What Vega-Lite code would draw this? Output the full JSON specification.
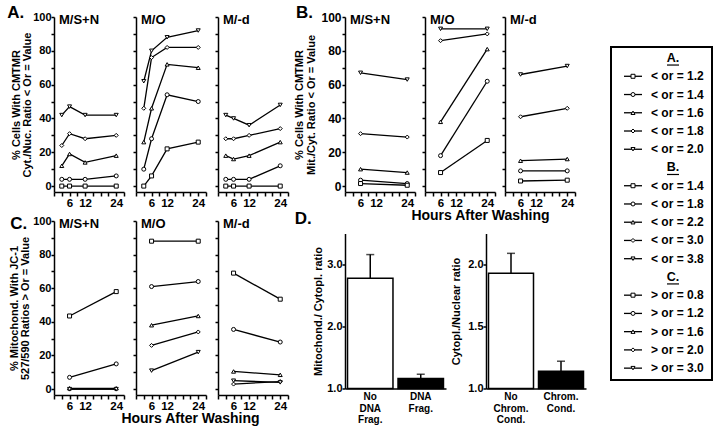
{
"$schema":"https://vega.github.io/schema/vega-lite/v6.json",
"autosize":{"type":"pad"},
"padding":{"left":7,"top":4,"right":0,"bottom":0},
"config":{
 "view":{"stroke":null},
 "font":"Liberation Sans",
 "axis":{"domainColor":"black","domainWidth":1.5,"tickColor":"black","tickWidth":1.5,"tickSize":4,"labelColor":"black","labelFont":"Liberation Sans","labelFontWeight":"bold","labelFontSize":11.5,"labelPadding":1,"titleColor":"black","titleFont":"Liberation Sans","titleFontWeight":"bold","titleFontSize":11,"grid":false,"labelOverlap":false,"labelFlush":false},
 "title":{"font":"Liberation Sans","fontWeight":"bold","color":"black"}
},
"datasets":{
"lines":[
{"fig":"A","cond":"M/S+N","lvl":"5","t":3,"v":42},{"fig":"A","cond":"M/S+N","lvl":"5","t":6,"v":47},{"fig":"A","cond":"M/S+N","lvl":"5","t":12,"v":42},{"fig":"A","cond":"M/S+N","lvl":"5","t":24,"v":42},
{"fig":"A","cond":"M/S+N","lvl":"4","t":3,"v":24},{"fig":"A","cond":"M/S+N","lvl":"4","t":6,"v":31},{"fig":"A","cond":"M/S+N","lvl":"4","t":12,"v":28},{"fig":"A","cond":"M/S+N","lvl":"4","t":24,"v":30},
{"fig":"A","cond":"M/S+N","lvl":"3","t":3,"v":12},{"fig":"A","cond":"M/S+N","lvl":"3","t":6,"v":19},{"fig":"A","cond":"M/S+N","lvl":"3","t":12,"v":14},{"fig":"A","cond":"M/S+N","lvl":"3","t":24,"v":18},
{"fig":"A","cond":"M/S+N","lvl":"2","t":3,"v":4},{"fig":"A","cond":"M/S+N","lvl":"2","t":6,"v":4},{"fig":"A","cond":"M/S+N","lvl":"2","t":12,"v":4},{"fig":"A","cond":"M/S+N","lvl":"2","t":24,"v":6},
{"fig":"A","cond":"M/S+N","lvl":"1","t":3,"v":0},{"fig":"A","cond":"M/S+N","lvl":"1","t":6,"v":0},{"fig":"A","cond":"M/S+N","lvl":"1","t":12,"v":0},{"fig":"A","cond":"M/S+N","lvl":"1","t":24,"v":0},
{"fig":"A","cond":"M/O","lvl":"5","t":3,"v":62},{"fig":"A","cond":"M/O","lvl":"5","t":6,"v":80},{"fig":"A","cond":"M/O","lvl":"5","t":12,"v":88},{"fig":"A","cond":"M/O","lvl":"5","t":24,"v":92},
{"fig":"A","cond":"M/O","lvl":"4","t":3,"v":46},{"fig":"A","cond":"M/O","lvl":"4","t":6,"v":76},{"fig":"A","cond":"M/O","lvl":"4","t":12,"v":82},{"fig":"A","cond":"M/O","lvl":"4","t":24,"v":82},
{"fig":"A","cond":"M/O","lvl":"3","t":3,"v":26},{"fig":"A","cond":"M/O","lvl":"3","t":6,"v":46},{"fig":"A","cond":"M/O","lvl":"3","t":12,"v":72},{"fig":"A","cond":"M/O","lvl":"3","t":24,"v":70},
{"fig":"A","cond":"M/O","lvl":"2","t":3,"v":10},{"fig":"A","cond":"M/O","lvl":"2","t":6,"v":28},{"fig":"A","cond":"M/O","lvl":"2","t":12,"v":54},{"fig":"A","cond":"M/O","lvl":"2","t":24,"v":50},
{"fig":"A","cond":"M/O","lvl":"1","t":3,"v":0},{"fig":"A","cond":"M/O","lvl":"1","t":6,"v":6},{"fig":"A","cond":"M/O","lvl":"1","t":12,"v":22},{"fig":"A","cond":"M/O","lvl":"1","t":24,"v":26},
{"fig":"A","cond":"M/-d","lvl":"5","t":3,"v":42},{"fig":"A","cond":"M/-d","lvl":"5","t":6,"v":40},{"fig":"A","cond":"M/-d","lvl":"5","t":12,"v":36},{"fig":"A","cond":"M/-d","lvl":"5","t":24,"v":48},
{"fig":"A","cond":"M/-d","lvl":"4","t":3,"v":28},{"fig":"A","cond":"M/-d","lvl":"4","t":6,"v":28},{"fig":"A","cond":"M/-d","lvl":"4","t":12,"v":30},{"fig":"A","cond":"M/-d","lvl":"4","t":24,"v":34},
{"fig":"A","cond":"M/-d","lvl":"3","t":3,"v":18},{"fig":"A","cond":"M/-d","lvl":"3","t":6,"v":16},{"fig":"A","cond":"M/-d","lvl":"3","t":12,"v":18},{"fig":"A","cond":"M/-d","lvl":"3","t":24,"v":26},
{"fig":"A","cond":"M/-d","lvl":"2","t":3,"v":4},{"fig":"A","cond":"M/-d","lvl":"2","t":6,"v":4},{"fig":"A","cond":"M/-d","lvl":"2","t":12,"v":4},{"fig":"A","cond":"M/-d","lvl":"2","t":24,"v":12},
{"fig":"A","cond":"M/-d","lvl":"1","t":3,"v":0},{"fig":"A","cond":"M/-d","lvl":"1","t":6,"v":0},{"fig":"A","cond":"M/-d","lvl":"1","t":12,"v":0},{"fig":"A","cond":"M/-d","lvl":"1","t":24,"v":0},
{"fig":"B","cond":"M/S+N","lvl":"5","t":6,"v":67},{"fig":"B","cond":"M/S+N","lvl":"5","t":24,"v":63},
{"fig":"B","cond":"M/S+N","lvl":"4","t":6,"v":31},{"fig":"B","cond":"M/S+N","lvl":"4","t":24,"v":29},
{"fig":"B","cond":"M/S+N","lvl":"3","t":6,"v":10},{"fig":"B","cond":"M/S+N","lvl":"3","t":24,"v":8},
{"fig":"B","cond":"M/S+N","lvl":"2","t":6,"v":3.5},{"fig":"B","cond":"M/S+N","lvl":"2","t":24,"v":1.5},
{"fig":"B","cond":"M/S+N","lvl":"1","t":6,"v":1.5},{"fig":"B","cond":"M/S+N","lvl":"1","t":24,"v":0.5},
{"fig":"B","cond":"M/O","lvl":"5","t":6,"v":93},{"fig":"B","cond":"M/O","lvl":"5","t":24,"v":93},
{"fig":"B","cond":"M/O","lvl":"4","t":6,"v":86},{"fig":"B","cond":"M/O","lvl":"4","t":24,"v":90},
{"fig":"B","cond":"M/O","lvl":"3","t":6,"v":38},{"fig":"B","cond":"M/O","lvl":"3","t":24,"v":81},
{"fig":"B","cond":"M/O","lvl":"2","t":6,"v":18},{"fig":"B","cond":"M/O","lvl":"2","t":24,"v":62},
{"fig":"B","cond":"M/O","lvl":"1","t":6,"v":8},{"fig":"B","cond":"M/O","lvl":"1","t":24,"v":27},
{"fig":"B","cond":"M/-d","lvl":"5","t":6,"v":66},{"fig":"B","cond":"M/-d","lvl":"5","t":24,"v":71},
{"fig":"B","cond":"M/-d","lvl":"4","t":6,"v":41},{"fig":"B","cond":"M/-d","lvl":"4","t":24,"v":46},
{"fig":"B","cond":"M/-d","lvl":"3","t":6,"v":15},{"fig":"B","cond":"M/-d","lvl":"3","t":24,"v":16},
{"fig":"B","cond":"M/-d","lvl":"2","t":6,"v":9},{"fig":"B","cond":"M/-d","lvl":"2","t":24,"v":9},
{"fig":"B","cond":"M/-d","lvl":"1","t":6,"v":3},{"fig":"B","cond":"M/-d","lvl":"1","t":24,"v":3.5},
{"fig":"C","cond":"M/S+N","lvl":"1","t":6,"v":43.5},{"fig":"C","cond":"M/S+N","lvl":"1","t":24,"v":58},
{"fig":"C","cond":"M/S+N","lvl":"2","t":6,"v":7},{"fig":"C","cond":"M/S+N","lvl":"2","t":24,"v":15},
{"fig":"C","cond":"M/S+N","lvl":"3","t":6,"v":0.5},{"fig":"C","cond":"M/S+N","lvl":"3","t":24,"v":0.5},
{"fig":"C","cond":"M/S+N","lvl":"4","t":6,"v":0},{"fig":"C","cond":"M/S+N","lvl":"4","t":24,"v":0},
{"fig":"C","cond":"M/S+N","lvl":"5","t":6,"v":0},{"fig":"C","cond":"M/S+N","lvl":"5","t":24,"v":0},
{"fig":"C","cond":"M/O","lvl":"1","t":6,"v":88},{"fig":"C","cond":"M/O","lvl":"1","t":24,"v":88},
{"fig":"C","cond":"M/O","lvl":"2","t":6,"v":61},{"fig":"C","cond":"M/O","lvl":"2","t":24,"v":64},
{"fig":"C","cond":"M/O","lvl":"3","t":6,"v":38},{"fig":"C","cond":"M/O","lvl":"3","t":24,"v":43.5},
{"fig":"C","cond":"M/O","lvl":"4","t":6,"v":26},{"fig":"C","cond":"M/O","lvl":"4","t":24,"v":34},
{"fig":"C","cond":"M/O","lvl":"5","t":6,"v":11},{"fig":"C","cond":"M/O","lvl":"5","t":24,"v":22},
{"fig":"C","cond":"M/-d","lvl":"1","t":6,"v":69},{"fig":"C","cond":"M/-d","lvl":"1","t":24,"v":53.5},
{"fig":"C","cond":"M/-d","lvl":"2","t":6,"v":35.5},{"fig":"C","cond":"M/-d","lvl":"2","t":24,"v":28},
{"fig":"C","cond":"M/-d","lvl":"3","t":6,"v":10.5},{"fig":"C","cond":"M/-d","lvl":"3","t":24,"v":8.5},
{"fig":"C","cond":"M/-d","lvl":"4","t":6,"v":3},{"fig":"C","cond":"M/-d","lvl":"4","t":24,"v":4.5},
{"fig":"C","cond":"M/-d","lvl":"5","t":6,"v":5},{"fig":"C","cond":"M/-d","lvl":"5","t":24,"v":4}
],
"bars":[
{"panel":"L","cat":"No DNA Frag.","grp":"no","v":2.78,"hi":3.16},
{"panel":"L","cat":"DNA Frag.","grp":"yes","v":1.16,"hi":1.23},
{"panel":"R","cat":"No Chrom. Cond.","grp":"no","v":1.93,"hi":2.09},
{"panel":"R","cat":"Chrom. Cond.","grp":"yes","v":1.14,"hi":1.22}
],
"legend":[
{"row":1,"kind":"head","label":"A."},
{"row":2,"kind":"item","lvl":"1","label":"< or = 1.2"},
{"row":3,"kind":"item","lvl":"2","label":"< or = 1.4"},
{"row":4,"kind":"item","lvl":"3","label":"< or = 1.6"},
{"row":5,"kind":"item","lvl":"4","label":"< or = 1.8"},
{"row":6,"kind":"item","lvl":"5","label":"< or = 2.0"},
{"row":7,"kind":"head","label":"B."},
{"row":8,"kind":"item","lvl":"1","label":"< or = 1.4"},
{"row":9,"kind":"item","lvl":"2","label":"< or = 1.8"},
{"row":10,"kind":"item","lvl":"3","label":"< or = 2.2"},
{"row":11,"kind":"item","lvl":"4","label":"< or = 3.0"},
{"row":12,"kind":"item","lvl":"5","label":"< or = 3.8"},
{"row":13,"kind":"head","label":"C."},
{"row":14,"kind":"item","lvl":"1","label":"> or = 0.8"},
{"row":15,"kind":"item","lvl":"2","label":"> or = 1.2"},
{"row":16,"kind":"item","lvl":"3","label":"> or = 1.6"},
{"row":17,"kind":"item","lvl":"4","label":"> or = 2.0"},
{"row":18,"kind":"item","lvl":"5","label":"> or = 3.0"}
]
},
"hconcat":[
{"hconcat":[
 {"vconcat":[
  {"title":{"text":"A.","anchor":"start","dx":-3,"offset":-11,"fontSize":17},
   "hconcat":[
    {"width":70,"height":175,"data":{"name":"lines"},"transform":[{"filter":"datum.fig=='A' && datum.cond=='M/S+N'"}],
     "title":{"text":"M/S+N","anchor":"start","frame":"group","dx":5,"offset":-16,"fontSize":13},
     "encoding":{"x":{"field":"t","type":"quantitative","scale":{"domain":[0,27],"nice":false,"zero":false},"axis":{"values":[0,3,6,9,12,15,18,21,24,27],"labelExpr":"datum.value == 6 || datum.value == 12 || datum.value == 24 ? datum.label : ''","title":null}},
                 "y":{"field":"v","type":"quantitative","scale":{"domain":[-3.5,100],"nice":false,"zero":false},"axis":{"values":[0,10,20,30,40,50,60,70,80,90,100],"labelExpr":"datum.value % 20 == 0 ? datum.label : ''","title":["% Cells With CMTMR","Cyt./Nuc. Ratio < Or = Value"],"titlePadding":0,"titleLineHeight":11.5,"labelFontSize":11,"labelPadding":0,"tickSize":3}}},
     "layer":[
      {"mark":{"type":"line","color":"black","strokeWidth":1.3},"encoding":{"detail":{"field":"lvl"}}},
      {"mark":{"type":"point","filled":true,"fill":"white","stroke":"black","strokeWidth":1,"opacity":1},"encoding":{"shape":{"field":"lvl","type":"nominal","scale":{"domain":["1","2","3","4","5"],"range":["square","circle","triangle-up","diamond","triangle-down"]},"legend":null},"size":{"field":"lvl","type":"ordinal","scale":{"domain":["1","2","3","4","5"],"range":[16,16,30,30,30]},"legend":null}}}
     ]},
    {"width":70,"height":175,"data":{"name":"lines"},"transform":[{"filter":"datum.fig=='A' && datum.cond=='M/O'"}],
     "title":{"text":"M/O","anchor":"start","frame":"group","dx":5,"offset":-11,"fontSize":13},
     "encoding":{"x":{"field":"t","type":"quantitative","scale":{"domain":[0,27],"nice":false,"zero":false},"axis":{"values":[0,3,6,9,12,15,18,21,24,27],"labelExpr":"datum.value == 6 || datum.value == 12 || datum.value == 24 ? datum.label : ''","title":null}},
                 "y":{"field":"v","type":"quantitative","scale":{"domain":[-3.5,100],"nice":false,"zero":false},"axis":{"values":[0,10,20,30,40,50,60,70,80,90,100],"labels":false,"title":null,"tickSize":3}}},
     "layer":[
      {"mark":{"type":"line","color":"black","strokeWidth":1.3},"encoding":{"detail":{"field":"lvl"}}},
      {"mark":{"type":"point","filled":true,"fill":"white","stroke":"black","strokeWidth":1,"opacity":1},"encoding":{"shape":{"field":"lvl","type":"nominal","scale":{"domain":["1","2","3","4","5"],"range":["square","circle","triangle-up","diamond","triangle-down"]},"legend":null},"size":{"field":"lvl","type":"ordinal","scale":{"domain":["1","2","3","4","5"],"range":[16,16,30,30,30]},"legend":null}}}
     ]},
    {"width":70,"height":175,"data":{"name":"lines"},"transform":[{"filter":"datum.fig=='A' && datum.cond=='M/-d'"}],
     "title":{"text":"M/-d","anchor":"start","frame":"group","dx":5,"offset":-11,"fontSize":13},
     "encoding":{"x":{"field":"t","type":"quantitative","scale":{"domain":[0,27],"nice":false,"zero":false},"axis":{"values":[0,3,6,9,12,15,18,21,24,27],"labelExpr":"datum.value == 6 || datum.value == 12 || datum.value == 24 ? datum.label : ''","title":null}},
                 "y":{"field":"v","type":"quantitative","scale":{"domain":[-3.5,100],"nice":false,"zero":false},"axis":{"values":[0,10,20,30,40,50,60,70,80,90,100],"labels":false,"title":null,"tickSize":3}}},
     "layer":[
      {"mark":{"type":"line","color":"black","strokeWidth":1.3},"encoding":{"detail":{"field":"lvl"}}},
      {"mark":{"type":"point","filled":true,"fill":"white","stroke":"black","strokeWidth":1,"opacity":1},"encoding":{"shape":{"field":"lvl","type":"nominal","scale":{"domain":["1","2","3","4","5"],"range":["square","circle","triangle-up","diamond","triangle-down"]},"legend":null},"size":{"field":"lvl","type":"ordinal","scale":{"domain":["1","2","3","4","5"],"range":[16,16,30,30,30]},"legend":null}}}
     ]}
   ],"spacing":12,"bounds":"flush"},
  {"title":{"text":"C.","anchor":"start","dx":2,"offset":-18,"fontSize":17},
   "hconcat":[
    {"width":70,"height":174,"data":{"name":"lines"},"transform":[{"filter":"datum.fig=='C' && datum.cond=='M/S+N'"}],
     "title":{"text":"M/S+N","anchor":"start","frame":"group","dx":5,"offset":-16,"fontSize":13},
     "encoding":{"x":{"field":"t","type":"quantitative","scale":{"domain":[0,27],"nice":false,"zero":false},"axis":{"values":[0,3,6,9,12,15,18,21,24,27],"labelExpr":"datum.value == 6 || datum.value == 12 || datum.value == 24 ? datum.label : ''","title":null}},
                 "y":{"field":"v","type":"quantitative","scale":{"domain":[-3.5,100],"nice":false,"zero":false},"axis":{"values":[0,10,20,30,40,50,60,70,80,90,100],"labelExpr":"datum.value % 20 == 0 ? datum.label : ''","title":["% Mitochond. With JC-1","527/590 Ratios > Or = Value"],"titlePadding":2,"titleLineHeight":11.5,"labelFontSize":11,"labelPadding":0,"tickSize":3}}},
     "layer":[
      {"mark":{"type":"line","color":"black","strokeWidth":1.3},"encoding":{"detail":{"field":"lvl"}}},
      {"mark":{"type":"point","filled":true,"fill":"white","stroke":"black","strokeWidth":1,"opacity":1},"encoding":{"shape":{"field":"lvl","type":"nominal","scale":{"domain":["1","2","3","4","5"],"range":["square","circle","triangle-up","diamond","triangle-down"]},"legend":null},"size":{"field":"lvl","type":"ordinal","scale":{"domain":["1","2","3","4","5"],"range":[16,16,30,30,30]},"legend":null}}}
     ]},
    {"width":70,"height":174,"data":{"name":"lines"},"transform":[{"filter":"datum.fig=='C' && datum.cond=='M/O'"}],
     "title":{"text":"M/O","anchor":"start","frame":"group","dx":5,"offset":-11,"fontSize":13},
     "encoding":{"x":{"field":"t","type":"quantitative","scale":{"domain":[0,27],"nice":false,"zero":false},"axis":{"values":[0,3,6,9,12,15,18,21,24,27],"labelExpr":"datum.value == 6 || datum.value == 12 || datum.value == 24 ? datum.label : ''","title":"Hours After Washing","titleFontSize":14,"titleX":54,"titlePadding":0}},
                 "y":{"field":"v","type":"quantitative","scale":{"domain":[-3.5,100],"nice":false,"zero":false},"axis":{"values":[0,10,20,30,40,50,60,70,80,90,100],"labels":false,"title":null,"tickSize":3}}},
     "layer":[
      {"mark":{"type":"line","color":"black","strokeWidth":1.3},"encoding":{"detail":{"field":"lvl"}}},
      {"mark":{"type":"point","filled":true,"fill":"white","stroke":"black","strokeWidth":1,"opacity":1},"encoding":{"shape":{"field":"lvl","type":"nominal","scale":{"domain":["1","2","3","4","5"],"range":["square","circle","triangle-up","diamond","triangle-down"]},"legend":null},"size":{"field":"lvl","type":"ordinal","scale":{"domain":["1","2","3","4","5"],"range":[16,16,30,30,30]},"legend":null}}}
     ]},
    {"width":70,"height":174,"data":{"name":"lines"},"transform":[{"filter":"datum.fig=='C' && datum.cond=='M/-d'"}],
     "title":{"text":"M/-d","anchor":"start","frame":"group","dx":5,"offset":-11,"fontSize":13},
     "encoding":{"x":{"field":"t","type":"quantitative","scale":{"domain":[0,27],"nice":false,"zero":false},"axis":{"values":[0,3,6,9,12,15,18,21,24,27],"labelExpr":"datum.value == 6 || datum.value == 12 || datum.value == 24 ? datum.label : ''","title":null}},
                 "y":{"field":"v","type":"quantitative","scale":{"domain":[-3.5,100],"nice":false,"zero":false},"axis":{"values":[0,10,20,30,40,50,60,70,80,90,100],"labels":false,"title":null,"tickSize":3}}},
     "layer":[
      {"mark":{"type":"line","color":"black","strokeWidth":1.3},"encoding":{"detail":{"field":"lvl"}}},
      {"mark":{"type":"point","filled":true,"fill":"white","stroke":"black","strokeWidth":1,"opacity":1},"encoding":{"shape":{"field":"lvl","type":"nominal","scale":{"domain":["1","2","3","4","5"],"range":["square","circle","triangle-up","diamond","triangle-down"]},"legend":null},"size":{"field":"lvl","type":"ordinal","scale":{"domain":["1","2","3","4","5"],"range":[16,16,30,30,30]},"legend":null}}}
     ]}
   ],"spacing":12,"bounds":"flush"}
 ],"spacing":6},
 {"vconcat":[
  {"title":{"text":"B.","anchor":"start","dx":2,"offset":-11,"fontSize":17},
   "hconcat":[
    {"width":70,"height":175,"data":{"name":"lines"},"transform":[{"filter":"datum.fig=='B' && datum.cond=='M/S+N'"}],
     "title":{"text":"M/S+N","anchor":"start","frame":"group","dx":5,"offset":-16,"fontSize":13},
     "encoding":{"x":{"field":"t","type":"quantitative","scale":{"domain":[0,27],"nice":false,"zero":false},"axis":{"values":[0,3,6,9,12,15,18,21,24,27],"labelExpr":"datum.value == 6 || datum.value == 12 || datum.value == 24 ? datum.label : ''","title":null}},
                 "y":{"field":"v","type":"quantitative","scale":{"domain":[-3.5,100],"nice":false,"zero":false},"axis":{"values":[0,10,20,30,40,50,60,70,80,90,100],"labelExpr":"datum.value % 20 == 0 ? datum.label : ''","title":["% Cells With CMTMR","Mit./Cyt. Ratio < Or = Value"],"titlePadding":4,"titleLineHeight":12,"labelFontSize":12,"labelPadding":1,"tickSize":3}}},
     "layer":[
      {"mark":{"type":"line","color":"black","strokeWidth":1.3},"encoding":{"detail":{"field":"lvl"}}},
      {"mark":{"type":"point","filled":true,"fill":"white","stroke":"black","strokeWidth":1,"opacity":1},"encoding":{"shape":{"field":"lvl","type":"nominal","scale":{"domain":["1","2","3","4","5"],"range":["square","circle","triangle-up","diamond","triangle-down"]},"legend":null},"size":{"field":"lvl","type":"ordinal","scale":{"domain":["1","2","3","4","5"],"range":[16,16,30,30,30]},"legend":null}}}
     ]},
    {"width":70,"height":175,"data":{"name":"lines"},"transform":[{"filter":"datum.fig=='B' && datum.cond=='M/O'"}],
     "title":{"text":"M/O","anchor":"start","frame":"group","dx":5,"offset":-11,"fontSize":13},
     "encoding":{"x":{"field":"t","type":"quantitative","scale":{"domain":[0,27],"nice":false,"zero":false},"axis":{"values":[0,3,6,9,12,15,18,21,24,27],"labelExpr":"datum.value == 6 || datum.value == 12 || datum.value == 24 ? datum.label : ''","title":"Hours After Washing","titleFontSize":14,"titleX":55,"titlePadding":0}},
                 "y":{"field":"v","type":"quantitative","scale":{"domain":[-3.5,100],"nice":false,"zero":false},"axis":{"values":[0,10,20,30,40,50,60,70,80,90,100],"labels":false,"title":null,"tickSize":3}}},
     "layer":[
      {"mark":{"type":"line","color":"black","strokeWidth":1.3},"encoding":{"detail":{"field":"lvl"}}},
      {"mark":{"type":"point","filled":true,"fill":"white","stroke":"black","strokeWidth":1,"opacity":1},"encoding":{"shape":{"field":"lvl","type":"nominal","scale":{"domain":["1","2","3","4","5"],"range":["square","circle","triangle-up","diamond","triangle-down"]},"legend":null},"size":{"field":"lvl","type":"ordinal","scale":{"domain":["1","2","3","4","5"],"range":[16,16,30,30,30]},"legend":null}}}
     ]},
    {"width":70,"height":175,"data":{"name":"lines"},"transform":[{"filter":"datum.fig=='B' && datum.cond=='M/-d'"}],
     "title":{"text":"M/-d","anchor":"start","frame":"group","dx":5,"offset":-11,"fontSize":13},
     "encoding":{"x":{"field":"t","type":"quantitative","scale":{"domain":[0,27],"nice":false,"zero":false},"axis":{"values":[0,3,6,9,12,15,18,21,24,27],"labelExpr":"datum.value == 6 || datum.value == 12 || datum.value == 24 ? datum.label : ''","title":null}},
                 "y":{"field":"v","type":"quantitative","scale":{"domain":[-3.5,100],"nice":false,"zero":false},"axis":{"values":[0,10,20,30,40,50,60,70,80,90,100],"labels":false,"title":null,"tickSize":3}}},
     "layer":[
      {"mark":{"type":"line","color":"black","strokeWidth":1.3},"encoding":{"detail":{"field":"lvl"}}},
      {"mark":{"type":"point","filled":true,"fill":"white","stroke":"black","strokeWidth":1,"opacity":1},"encoding":{"shape":{"field":"lvl","type":"nominal","scale":{"domain":["1","2","3","4","5"],"range":["square","circle","triangle-up","diamond","triangle-down"]},"legend":null},"size":{"field":"lvl","type":"ordinal","scale":{"domain":["1","2","3","4","5"],"range":[16,16,30,30,30]},"legend":null}}}
     ]}
   ],"spacing":10,"bounds":"flush"},
  {"title":{"text":"D.","anchor":"start","dx":-18,"offset":6,"fontSize":17},
   "hconcat":[
    {"width":101,"height":155,"data":{"name":"bars"},"transform":[{"filter":"datum.panel=='L'"}],
     "encoding":{"x":{"field":"cat","type":"nominal","sort":null,"scale":{"paddingInner":0.1,"paddingOuter":0.05},"axis":{"title":null,"labelAngle":0,"ticks":false,"tickSize":0,"labelExpr":"split(datum.label, ' ')","labelFontSize":10,"labelLineHeight":11.5,"labelPadding":3}}},
     "layer":[
      {"mark":{"type":"bar","stroke":"black","strokeWidth":1.5},"encoding":{"y":{"field":"v","type":"quantitative","scale":{"domain":[1,3.5],"nice":false,"zero":false},"axis":{"values":[1,2,3],"format":".1f","title":"Mitochond./ Cytopl. ratio","titleFontSize":11,"labelFontSize":11,"titlePadding":3,"labelPadding":0,"tickSize":3}},"y2":{"datum":1},"fill":{"field":"grp","type":"nominal","scale":{"domain":["no","yes"],"range":["white","black"]},"legend":null}}},
      {"mark":{"type":"rule","color":"black","strokeWidth":1.5},"encoding":{"y":{"field":"v","type":"quantitative"},"y2":{"field":"hi"}}},
      {"mark":{"type":"tick","color":"black","thickness":1.5,"size":8},"encoding":{"y":{"field":"hi","type":"quantitative"}}}
     ]},
    {"width":100,"height":155,"data":{"name":"bars"},"transform":[{"filter":"datum.panel=='R'"}],
     "encoding":{"x":{"field":"cat","type":"nominal","sort":null,"scale":{"paddingInner":0.1,"paddingOuter":0.05},"axis":{"title":null,"labelAngle":0,"ticks":false,"tickSize":0,"labelExpr":"split(datum.label, ' ')","labelFontSize":10,"labelLineHeight":11.5,"labelPadding":3}}},
     "layer":[
      {"mark":{"type":"bar","stroke":"black","strokeWidth":1.5},"encoding":{"y":{"field":"v","type":"quantitative","scale":{"domain":[1,2.25],"nice":false,"zero":false},"axis":{"values":[1,1.5,2],"format":".1f","title":"Cytopl./Nuclear ratio","titleFontSize":11,"labelFontSize":11,"titlePadding":6,"labelPadding":0,"tickSize":3}},"y2":{"datum":1},"fill":{"field":"grp","type":"nominal","scale":{"domain":["no","yes"],"range":["white","black"]},"legend":null}}},
      {"mark":{"type":"rule","color":"black","strokeWidth":1.5},"encoding":{"y":{"field":"v","type":"quantitative"},"y2":{"field":"hi"}}},
      {"mark":{"type":"tick","color":"black","thickness":1.5,"size":8},"encoding":{"y":{"field":"hi","type":"quantitative"}}}
     ]}
   ],"spacing":40,"bounds":"flush"}
 ],"spacing":-13.5}
],"spacing":4},
{"width":101,"height":363,"data":{"name":"legend"},
 "layer":[
  {"mark":{"type":"rect","fill":"white","fillOpacity":0,"stroke":"black","strokeWidth":1.5},"encoding":{"x":{"datum":0,"type":"quantitative","scale":{"domain":[0,101],"nice":false,"zero":false},"axis":null},"x2":{"datum":101},"y":{"datum":0.4,"type":"quantitative","scale":{"domain":[-1.25,18.65],"reverse":true,"nice":false,"zero":false},"axis":null},"y2":{"datum":18.65}}},
  {"transform":[{"filter":"datum.kind=='item'"}],"mark":{"type":"rule","color":"black","strokeWidth":1.3},"encoding":{"x":{"datum":13,"type":"quantitative"},"x2":{"datum":31},"y":{"field":"row","type":"quantitative"}}},
  {"transform":[{"filter":"datum.kind=='item'"}],"mark":{"type":"point","filled":true,"fill":"white","stroke":"black","strokeWidth":1,"opacity":1},"encoding":{"x":{"datum":22,"type":"quantitative"},"y":{"field":"row","type":"quantitative"},"shape":{"field":"lvl","type":"nominal","scale":{"domain":["1","2","3","4","5"],"range":["square","circle","triangle-up","diamond","triangle-down"]},"legend":null},"size":{"field":"lvl","type":"ordinal","scale":{"domain":["1","2","3","4","5"],"range":[16,16,30,30,30]},"legend":null}}},
  {"transform":[{"filter":"datum.kind=='item'"}],"mark":{"type":"text","align":"left","fontSize":12,"fontWeight":"bold"},"encoding":{"x":{"datum":40,"type":"quantitative"},"y":{"field":"row","type":"quantitative"},"text":{"field":"label"}}},
  {"transform":[{"filter":"datum.kind=='head'"}],"mark":{"type":"text","align":"center","fontSize":12.5,"fontWeight":"bold"},"encoding":{"x":{"datum":62,"type":"quantitative"},"y":{"field":"row","type":"quantitative"},"text":{"field":"label"}}},
  {"transform":[{"filter":"datum.kind=='head'"}],"mark":{"type":"rule","color":"black","strokeWidth":1.2,"yOffset":7},"encoding":{"x":{"datum":56,"type":"quantitative"},"x2":{"datum":68},"y":{"field":"row","type":"quantitative"}}}
 ]}
],"spacing":24
}
